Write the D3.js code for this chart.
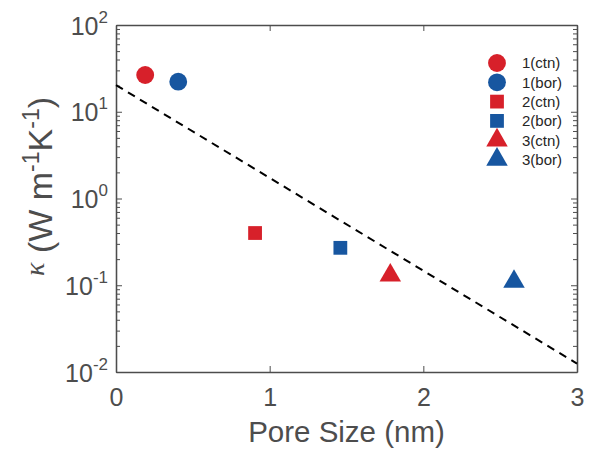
<!DOCTYPE html>
<html>
<head>
<meta charset="utf-8">
<script src="https://cdn.jsdelivr.net/npm/d3@7"></script>
<style>
  body { margin: 0; background: #fff; }
  svg { display: block; font-family: "Liberation Sans", Arial, sans-serif; }
</style>
</head>
<body>
<div id="chart"></div>
<script>
// Data
const seriesNames = ["1(ctn)", "1(bor)", "2(ctn)", "2(bor)", "3(ctn)", "3(bor)"];
const poreSize = [0.19, 0.405, 0.905, 1.46, 1.785, 2.59];   // nm
const kappa = [26.5, 22.2, 0.40, 0.27, 0.13, 0.11];         // W m-1 K-1
const fitPoreSize = [0, 3];
const fitKappa = [20.3, 0.0125];
const xTicks = [0, 1, 2, 3];
const yTickExponents = [-2, -1, 0, 1, 2];

// marker style per series
const markerShapes = [d3.symbolCircle, d3.symbolCircle, d3.symbolSquare, d3.symbolSquare, d3.symbolTriangle, d3.symbolTriangle];
const markerSizes = [250, 250, 190, 190, 200, 200];
const markerColors = ["#d7202a", "#1756a0", "#d7202a", "#1756a0", "#d7202a", "#1756a0"];

const width = 594, height = 451;
const margin = { top: 25, right: 17, bottom: 79, left: 116 };
const axisColor = "#4d4d4d";

const svg = d3.select("#chart").append("svg")
    .attr("width", width)
    .attr("height", height)
    .attr("viewBox", `0 0 ${width} ${height}`);

const x = d3.scaleLinear()
    .domain([0, 3])
    .range([margin.left, width - margin.right]);

const y = d3.scaleLog()
    .domain([0.01, 100])
    .range([height - margin.bottom, margin.top]);

// minor ticks for the log axis
const minorTicks = [];
yTickExponents.slice(0, -1).forEach(e => {
    for (let m = 2; m <= 9; m++) minorTicks.push(m * Math.pow(10, e));
});
const majorTicks = yTickExponents.map(e => Math.pow(10, e));

function styleAxis(g) {
    g.select(".domain").attr("stroke", axisColor).attr("stroke-width", 1.3);
    g.selectAll(".tick line").attr("stroke", axisColor).attr("stroke-width", 1);
}

// X axis bottom with labels, top without
svg.append("g")
    .attr("transform", `translate(0,${y.range()[0]})`)
    .call(d3.axisBottom(x).tickValues(xTicks).tickFormat(d3.format("d"))
        .tickSizeInner(-6).tickSizeOuter(0).tickPadding(16))
    .call(styleAxis)
    .call(g => g.selectAll(".tick text")
        .attr("fill", axisColor)
        .style("font-size", "25px"));

svg.append("g")
    .attr("transform", `translate(0,${margin.top})`)
    .call(d3.axisTop(x).tickValues(xTicks).tickSizeInner(-6).tickSizeOuter(0).tickFormat(""))
    .call(styleAxis);

// Y axis left: minor ticks, then major ticks with labels
svg.append("g")
    .attr("transform", `translate(${margin.left},0)`)
    .call(d3.axisLeft(y).tickValues(minorTicks).tickSizeInner(-4).tickSizeOuter(0).tickFormat(""))
    .call(styleAxis);

svg.append("g")
    .attr("transform", `translate(${margin.left},0)`)
    .call(d3.axisLeft(y).tickValues(majorTicks).tickSizeInner(-6).tickSizeOuter(0).tickFormat(""))
    .call(styleAxis)
    .call(g => g.selectAll(".tick").each(function (d) {
        const exp = Math.round(Math.log10(d));
        const t = d3.select(this).append("text")
            .attr("fill", axisColor)
            .attr("text-anchor", "end")
            .attr("x", -8)
            .attr("y", 9);
        t.append("tspan").style("font-size", "25px").text("10");
        t.append("tspan").style("font-size", "17px").attr("dy", -12).text(exp);
    }));

// Y axis right
svg.append("g")
    .attr("transform", `translate(${x.range()[1]},0)`)
    .call(d3.axisRight(y).tickValues(minorTicks).tickSizeInner(-4).tickSizeOuter(0).tickFormat(""))
    .call(styleAxis);

svg.append("g")
    .attr("transform", `translate(${x.range()[1]},0)`)
    .call(d3.axisRight(y).tickValues(majorTicks).tickSizeInner(-6).tickSizeOuter(0).tickFormat(""))
    .call(styleAxis);

// Axis titles
svg.append("text")
    .attr("x", (x.range()[0] + x.range()[1]) / 2)
    .attr("y", 442)
    .attr("text-anchor", "middle")
    .attr("fill", axisColor)
    .style("font-size", "29.5px")
    .text("Pore Size (nm)");

const yTitle = svg.append("text")
    .attr("transform", "translate(52,276) rotate(-90)")
    .attr("text-anchor", "start")
    .attr("fill", axisColor)
    .style("font-size", "34px");
yTitle.append("tspan")
    .style("font-family", "'Liberation Serif', serif")
    .style("font-style", "italic")
    .style("font-size", "28px")
    .attr("dy", -8)
    .text("κ");
yTitle.append("tspan").attr("dy", 8).text(" (W m");
yTitle.append("tspan").style("font-size", "23px").attr("dy", -13).text("-1");
yTitle.append("tspan").attr("dy", 13).text("K");
yTitle.append("tspan").style("font-size", "23px").attr("dy", -13).text("-1");
yTitle.append("tspan").attr("dy", 13).text(")");

// Dashed fit line
const fitData = fitPoreSize.map((p, i) => [p, fitKappa[i]]);
svg.append("path")
    .datum(fitData)
    .attr("fill", "none")
    .attr("stroke", "#000")
    .attr("stroke-width", 2)
    .attr("stroke-dasharray", "8,6")
    .attr("d", d3.line().x(d => x(d[0])).y(d => y(d[1])));

// Data markers
const points = seriesNames.map((name, i) => ({ name, px: poreSize[i], k: kappa[i], i }));
svg.selectAll(".marker")
    .data(points)
    .join("path")
    .attr("class", "marker")
    .attr("transform", d => `translate(${x(d.px)},${y(d.k)})`)
    .attr("d", d => d3.symbol().type(markerShapes[d.i]).size(markerSizes[d.i])())
    .attr("fill", d => markerColors[d.i]);

// Legend
const legend = svg.append("g").attr("transform", "translate(497,63)");
const rows = legend.selectAll("g")
    .data(points)
    .join("g")
    .attr("transform", d => `translate(0,${d.i * 19.3})`);
rows.append("path")
    .attr("d", d => d3.symbol().type(markerShapes[d.i]).size(markerSizes[d.i])())
    .attr("fill", d => markerColors[d.i]);
rows.append("text")
    .attr("x", 25)
    .attr("dy", "0.36em")
    .attr("fill", "#262626")
    .style("font-size", "15px")
    .text(d => d.name);
</script>
</body>
</html>
